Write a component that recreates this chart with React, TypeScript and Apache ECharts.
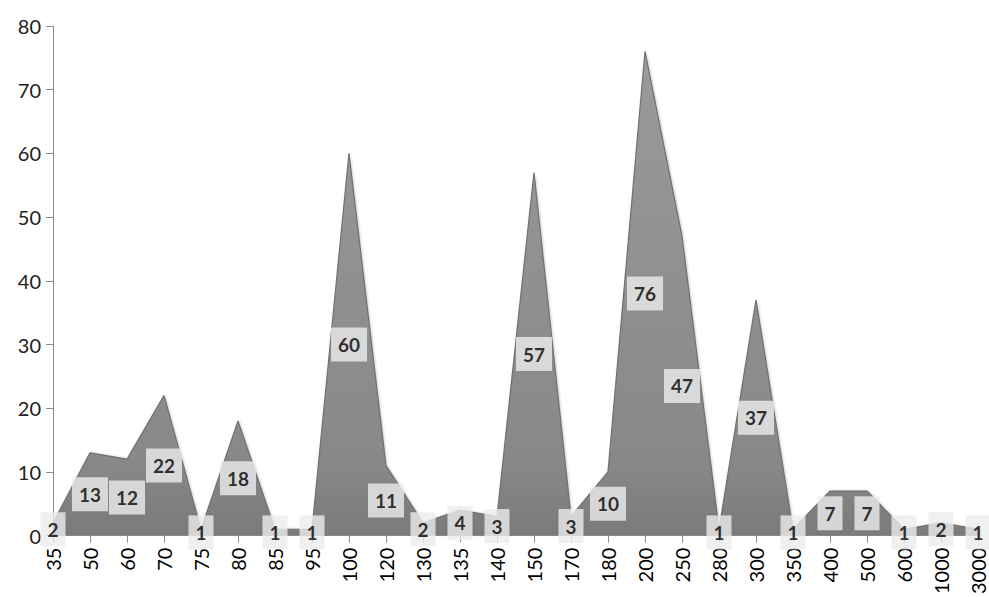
import React, { useEffect, useRef } from "react";
import * as echarts from "echarts";

const categories = [
  "35", "50", "60", "70", "75", "80", "85", "95", "100", "120", "130", "135", "140",
  "150", "170", "180", "200", "250", "280", "300", "350", "400", "500", "600", "1000", "3000",
];
const counts = [2, 13, 12, 22, 1, 18, 1, 1, 60, 11, 2, 4, 3, 57, 3, 10, 76, 47, 1, 37, 1, 7, 7, 1, 2, 1];
const yTicks = { min: 0, max: 80, interval: 10 };

const FONT = "Lato, 'Liberation Sans', sans-serif";

export default function App() {
  const ref = useRef<HTMLDivElement>(null);

  useEffect(() => {
    if (!ref.current) return;
    const chart = echarts.init(ref.current, null, { renderer: "svg" });
    chart.setOption({
      animation: false,
      backgroundColor: "#ffffff",
      grid: { left: 53, right: 11, top: 26, bottom: 56, containLabel: false },
      xAxis: {
        type: "category",
        data: categories,
        boundaryGap: false,
        axisLine: { show: true, lineStyle: { color: "#a0a0a0", width: 1 } },
        axisTick: { show: true, alignWithLabel: true, length: 7, lineStyle: { color: "#8c8c8c" } },
        axisLabel: {
          rotate: 90,
          margin: 12,
          fontFamily: FONT,
          fontSize: 20,
          color: "#000000",
          interval: 0,
        },
      },
      yAxis: {
        type: "value",
        min: yTicks.min,
        max: yTicks.max,
        interval: yTicks.interval,
        splitLine: { show: false },
        axisLine: { show: true, lineStyle: { color: "#8c8c8c", width: 1 } },
        axisTick: { show: true, length: 7, lineStyle: { color: "#8c8c8c" } },
        axisLabel: { fontFamily: FONT, fontSize: 20, color: "#222222", margin: 12 },
      },
      series: [
        {
          type: "line",
          data: counts,
          symbol: "none",
          z: 2,
          lineStyle: { color: "#707070", width: 1.2 },
          areaStyle: {
            opacity: 1,
            color: new echarts.graphic.LinearGradient(0, 0, 0, 1, [
              { offset: 0, color: "#9a9a9a" },
              { offset: 0.85, color: "#888888" },
              { offset: 1, color: "#7a7a7a" },
            ]),
            shadowColor: "rgba(0,0,0,0.25)",
            shadowBlur: 3,
            shadowOffsetX: 1,
            shadowOffsetY: 0,
          },
        },
        {
          // value labels placed halfway up each peak
          type: "scatter",
          data: counts.map((v, i) => [i, v / 2]),
          symbolSize: 1,
          itemStyle: { color: "rgba(0,0,0,0)" },
          z: 5,
          silent: true,
          label: {
            show: true,
            position: "inside",
            formatter: (p: any) => String(counts[p.dataIndex]),
            fontFamily: FONT,
            fontWeight: "bold",
            fontSize: 19,
            color: "#000000",
            backgroundColor: "#ececec",
            padding: [8, 7, 7, 7],
          },
        },
      ],
    });
    return () => chart.dispose();
  }, []);

  return (
    <div
      ref={ref}
      style={{ position: "fixed", left: 0, top: 0, width: 989, height: 597 }}
    />
  );
}
